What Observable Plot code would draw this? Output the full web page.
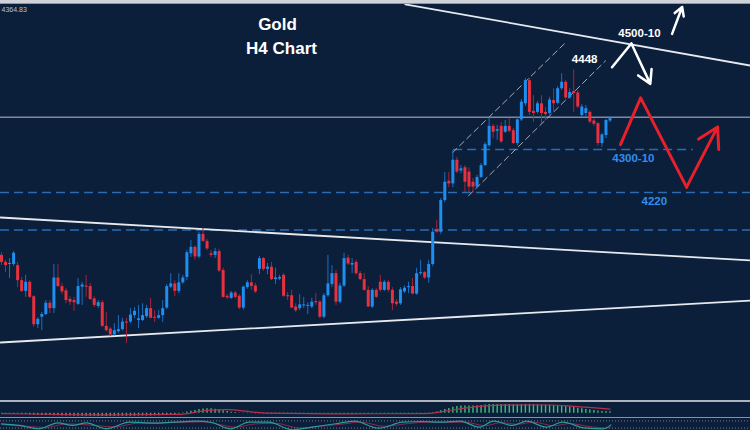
<!DOCTYPE html>
<html><head><meta charset="utf-8">
<script src="https://cdn.jsdelivr.net/npm/d3@7"></script>
<script src="https://cdn.jsdelivr.net/npm/@observablehq/plot@0.6"></script>
<style>
html,body{margin:0;padding:0;background:#0b1e3a;}
#wrap{position:relative;width:750px;height:430px;overflow:hidden;background:#0b1e3a;font-family:"Liberation Sans",Arial,sans-serif;}
#topbar{position:absolute;left:0;top:0;width:750px;height:4px;background:#cfd3d9;border-bottom:1px solid #8d96a3;box-sizing:border-box;}
#sep1{height:2px;background:#aeb4bd;}
#sep2{height:1px;background:#8893a2;}
svg{display:block;}
</style></head><body>
<div id="wrap"><div id="main"></div><div id="sep1"></div><div id="macd"></div><div id="sep2"></div><div id="osc"></div><div id="topbar"></div></div>
<script>
// ---- Candles (Gold, H4) ----
const opens = [4103,4090,4086,4086,4084,4056,4036,4053,4026,3974,
3988,3993,4014,4004,4061,4045,4037,4021,4019,4012,
4044,4046,4045,4022,4008,4015,3971,3966,3955,3961,
3965,3979,3979,3991,3982,3982,3989,4004,3988,3986,
3991,4005,4044,4050,4036,4052,4062,4106,4118,4100,
4142,4129,4106,4103,4110,4075,4027,4023,4033,4027,
4005,4043,4052,4046,4077,4097,4077,4081,4058,4059,
4066,4028,4028,4007,4004,4009,4008,4007,4017,4016,
3988,4028,4049,4069,4016,4046,4098,4085,4090,4069,
4058,4038,4007,4038,4053,4038,4053,4038,4016,4013,
4035,4043,4045,4031,4069,4071,4061,4086,4151,4146,
4205,4241,4236,4280,4260,4266,4258,4239,4230,4248,
4270,4307,4343,4334,4343,4332,4343,4335,4311,4355,
4385,4428,4371,4369,4385,4369,4367,4391,4386,4413,
4425,4396,4408,4405,4363,4367,4369,4353,4348,4311,
4326,4353];
const closes = [4090,4084,4088,4107,4056,4036,4053,4025,3974,3984,
3993,4014,4004,4061,4045,4035,4019,4016,4015,4045,
4048,4044,4021,4010,4015,3971,3963,3955,3963,3965,
3979,3977,3992,3999,3985,3991,4004,3986,3986,3991,
4004,4045,4050,4036,4052,4061,4108,4118,4100,4142,
4129,4115,4103,4110,4074,4025,4024,4033,4025,4005,
4044,4052,4045,4035,4097,4077,4081,4058,4061,4062,
4027,4026,4005,4000,4011,4011,4010,4016,4015,3988,
4028,4050,4069,4016,4046,4097,4087,4088,4069,4058,
4038,4007,4038,4025,4038,4053,4038,4013,4012,4039,
4042,4045,4031,4069,4071,4061,4086,4146,4146,4205,
4239,4236,4280,4258,4264,4239,4230,4230,4248,4270,
4309,4343,4332,4337,4314,4343,4334,4311,4355,4388,
4428,4369,4367,4385,4367,4365,4392,4385,4413,4425,
4396,4406,4404,4379,4379,4376,4351,4347,4311,4327,
4354,4359];
const highs = [4108,4094,4097,4110,4090,4062,4066,4056,4028,3987,
3997,4019,4019,4086,4086,4051,4041,4026,4025,4060,
4053,4066,4051,4026,4019,4019,3997,3969,3976,3991,
3986,3986,4004,4006,4010,4013,4010,4023,4000,4000,
4019,4049,4069,4056,4069,4066,4112,4131,4121,4146,
4153,4133,4112,4116,4114,4079,4030,4036,4036,4030,
4046,4056,4067,4051,4101,4099,4088,4090,4079,4066,
4069,4034,4038,4013,4030,4025,4015,4023,4032,4019,
4032,4103,4084,4075,4051,4107,4103,4097,4094,4073,
4069,4045,4041,4041,4066,4056,4056,4043,4021,4043,
4046,4053,4060,4079,4094,4073,4094,4153,4168,4209,
4257,4257,4298,4285,4270,4270,4266,4246,4252,4274,
4313,4360,4347,4345,4350,4354,4358,4339,4360,4393,
4432,4432,4400,4389,4400,4378,4397,4413,4417,4441,
4428,4413,4448,4410,4384,4382,4372,4358,4350,4330,
4356,4361];
const lows = [4084,4071,4060,4082,4043,4034,4025,4023,3969,3967,
3963,3991,3995,3995,4043,4030,4013,4010,3999,4010,
4010,4025,4019,4006,4004,3969,3960,3952,3953,3958,
3962,3939,3976,3986,3967,3980,3986,3985,3978,3984,
3978,4002,4041,4026,4032,4049,4056,4099,4094,4097,
4127,4112,4099,4097,4071,4023,4021,4021,4022,4002,
4001,4040,4038,4032,4067,4073,4067,4056,4049,4056,
4025,4019,4004,3997,4000,4004,3993,4004,4010,3985,
3985,4025,4043,4010,4013,4043,4084,4069,4066,4056,
4036,4006,4004,4023,4034,4036,4034,4000,4008,4010,
4032,4032,4030,4029,4066,4058,4051,4082,4144,4142,
4201,4229,4229,4255,4255,4220,4220,4218,4227,4246,
4268,4304,4320,4317,4311,4330,4331,4309,4307,4352,
4380,4363,4350,4366,4348,4354,4364,4369,4383,4410,
4393,4393,4369,4376,4360,4360,4348,4343,4306,4304,
4320,4350];

// ---- Levels & drawings (bar index, price) ----
const levelSolid = 4360;
const levelsDashed = [4220, 4150];
const level4300 = {price: 4300, from: 112.2, to: 171.7};
const trendTop = [[100.2, 4570], [185.9, 4456]];
const trendMid = [[-0.25, 4173.5], [185.9, 4093.5]];
const trendLow = [[-0.25, 3941], [185.9, 4019]];
const chanUpper = [[111.9, 4294], [140.0, 4499]];
const chanLower = [[115.9, 4214], [149.9, 4465]];
const whitePath = [[151.5, 4453], [156.3, 4497]];
const whiteArrow1 = {x1: 156.3, y1: 4497, x2: 161.0, y2: 4422};
const whiteArrow2 = {x1: 166.4, y1: 4515, x2: 168.9, y2: 4565};
const redPath = [[153.6, 4309], [158.6, 4396], [170.0, 4230]];
const redArrow = {x1: 170.0, y1: 4230, x2: 177.7, y2: 4342};
const labels = [
  {x: 144.7, y: 4467, text: "4448", color: "#ffffff"},
  {x: 158.3, y: 4516, text: "4500-10", color: "#ffffff"},
  {x: 156.8, y: 4283, text: "4300-10", color: "#2f8ff0"},
  {x: 162.0, y: 4203, text: "4220", color: "#2f8ff0"}
];
const titleLines = ["Gold", "H4 Chart"];
const lastPriceText = "4364.83";

// ---- Indicators ----
const macdHist = [-2,-3,-3,-4,-4,-5,-6,
-8,-9,-10,-11,-12,-12,-13,-13,-14,-14,-14,-15,-15,-15,-15,-15,-15,-16,-16,-16,-16,-16,-15,-15,-15,-15,-15,-14,-14,-14,-14,-13,-13,-12,-11,-10,-8,
-4,2,6,10,14,18,21,22,22,20,17,12,8,5,3,1,
-1,-2,-2,-3,-3,-3,-4,-4,-4,-4,-5,-5,-5,-5,-4,-4,-4,-4,-4,-3,-3,-3,-4,-4,-4,-5,-5,-5,-5,-4,-4,-4,-3,-3,-3,-3,-4,-4,-4,-4,-3,-3,-3,-2,-2,-1,-1,
2,6,12,18,24,30,34,36,36,36,36,37,39,41,43,44,44,44,44,43,42,42,43,44,44,43,42,41,40,39,38,37,36,34,31,28,25,22,19,16,13,11,9,8,7];
const macdSignal = [[0,-2],[7,-4],[25,-8],[44,-6],[51,14],[56,18],[62,7],[66,0],[85,-3],[105,-2],[112,16],[118,33],[124,40],[136,41],[142,34],[151,20]];
const oscMain = [[0,56],[4.5,42],[9.3,14],[14,64],[17.6,42],[21.1,64],[25.9,14],[31.8,69],[37.8,61],[42.5,69],[48.4,78],[52,69],[56.8,14],[61.5,69],[66.3,69],[72.2,6],[77,28],[82.9,56],[87.6,78],[93.6,19],[99.5,69],[104.3,75],[109,69],[113.8,78],[118.5,28],[122.1,78],[126.8,42],[130.4,78],[135.1,28],[139.3,69],[144.6,22],[149.4,14],[151.2,47]];
const oscSignal = [[0,50],[6,35],[11,25],[16,55],[20,50],[24,40],[28,30],[34,62],[40,64],[46,70],[50,72],[54,50],[58,28],[63,55],[68,60],[74,20],[79,35],[85,55],[89,70],[95,35],[101,58],[106,70],[111,68],[115,70],[120,40],[124,66],[128,52],[132,70],[137,40],[141,58],[146,32],[150,20],[151.2,30]];

// ---- build ----
const UP = "#1f8ef1", DN = "#e8313f", UPW = "#1a6fc0", DNW = "#a8243a";
const candles = opens.map((o, i) => ({i, o, c: closes[i], h: highs[i], l: lows[i], up: closes[i] >= o}));
const xDom = [-0.25, 185.86];
const font = "'Liberation Sans', Arial, sans-serif";

const main = Plot.plot({
  width: 750, height: 400, margin: 0,
  style: {background: "#0b1e3a", fontFamily: font, overflow: "hidden"},
  x: {domain: xDom, range: [0, 750], axis: null},
  y: {domain: [3833.1, 4577.1], range: [400, 0], axis: null},
  marks: [
    Plot.ruleY([levelSolid], {stroke: "#7f8b9b", strokeWidth: 1.5}),
    Plot.ruleY(levelsDashed, {stroke: "#2b6cb3", strokeWidth: 1.5, strokeDasharray: "9,5"}),
    Plot.ruleY([level4300], {y: "price", x1: "from", x2: "to", stroke: "#2b6cb3", strokeWidth: 1.5, strokeDasharray: "9,5"}),
    Plot.line(trendTop, {stroke: "#e6eaef", strokeWidth: 1.8}),
    Plot.line(trendMid, {stroke: "#e6eaef", strokeWidth: 1.8}),
    Plot.line(trendLow, {stroke: "#e6eaef", strokeWidth: 1.8}),
    Plot.line(chanUpper, {stroke: "#a3acb8", strokeWidth: 1, strokeDasharray: "6,4"}),
    Plot.line(chanLower, {stroke: "#a3acb8", strokeWidth: 1, strokeDasharray: "6,4"}),
    Plot.ruleX(candles, {x: "i", y1: "l", y2: "h", stroke: d => d.up ? UPW : DNW, strokeWidth: 1}),
    Plot.ruleX(candles, {x: "i", y1: "o", y2: "c", stroke: d => d.up ? UP : DN, strokeWidth: 3}),
    Plot.line(whitePath, {stroke: "white", strokeWidth: 2.5}),
    Plot.arrow([whiteArrow1], {x1: "x1", y1: "y1", x2: "x2", y2: "y2", stroke: "white", strokeWidth: 2.5, headLength: 11}),
    Plot.arrow([whiteArrow2], {x1: "x1", y1: "y1", x2: "x2", y2: "y2", stroke: "white", strokeWidth: 2.5, headLength: 11}),
    Plot.line(redPath, {stroke: "#e8202c", strokeWidth: 3}),
    Plot.arrow([redArrow], {x1: "x1", y1: "y1", x2: "x2", y2: "y2", stroke: "#e8202c", strokeWidth: 3, headLength: 12}),
    Plot.text(labels, {x: "x", y: "y", text: "text", fill: "color", fontSize: 11.5, fontWeight: "bold", textAnchor: "middle", lineAnchor: "middle"}),
    Plot.text([titleLines[0]], {frameAnchor: "top-left", dx: 277, dy: 24, textAnchor: "middle", lineAnchor: "middle", fill: "white", fontSize: 17, fontWeight: "bold"}),
    Plot.text([titleLines[1]], {frameAnchor: "top-left", dx: 281, dy: 48, textAnchor: "middle", lineAnchor: "middle", fill: "white", fontSize: 17, fontWeight: "bold"}),
    Plot.text([lastPriceText], {frameAnchor: "top-left", dx: 1, dy: 9, textAnchor: "start", lineAnchor: "middle", fill: "#b9c0c9", fontSize: 7})
  ]
});
document.getElementById("main").appendChild(main);

const hist = macdHist.map((v, i) => ({i, v}));
const macd = Plot.plot({
  width: 750, height: 15, margin: 0,
  style: {background: "#0b1e3a", overflow: "hidden"},
  x: {domain: xDom, range: [0, 750], axis: null},
  y: {domain: [-21.5, 53.5], range: [15, 0], axis: null},
  marks: [
    Plot.ruleX(hist, {x: "i", y1: 0, y2: "v", stroke: "#3cbf7a", strokeWidth: 1.4}),
    Plot.line(macdSignal, {curve: "monotone-x", stroke: "#b5304c", strokeWidth: 1.2})
  ]
});
document.getElementById("macd").appendChild(macd);

const osc = Plot.plot({
  width: 750, height: 12, margin: 0,
  style: {background: "#0b1e3a", overflow: "hidden"},
  x: {domain: xDom, range: [0, 750], axis: null},
  y: {domain: [0, 100], range: [12, 0], axis: null},
  marks: [
    Plot.ruleY([20, 80], {stroke: "#6f7d90", strokeWidth: 1, strokeDasharray: "1,2"}),
    Plot.line(oscSignal, {curve: "monotone-x", stroke: "#8a2a48", strokeWidth: 1}),
    Plot.line(oscMain, {curve: "monotone-x", stroke: "#2a9d9a", strokeWidth: 1.2})
  ]
});
document.getElementById("osc").appendChild(osc);
</script>
</body></html>
